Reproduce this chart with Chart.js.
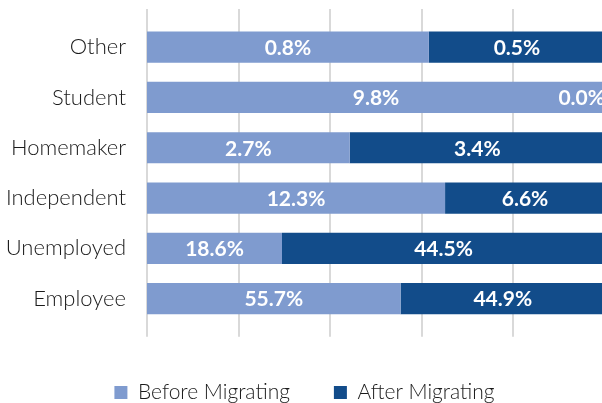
<!DOCTYPE html>
<html><head><meta charset="utf-8">
<script src="https://cdn.jsdelivr.net/npm/chart.js@4/dist/chart.umd.min.js"></script>
<style>
html,body{margin:0;padding:0;background:#fff;overflow:hidden;width:602px;height:403px}
#wrap{width:620px;height:413px;position:relative}
</style>
</head><body>
<div id="wrap"><canvas id="c"></canvas></div>
<script>
const categories = ['Other', 'Student', 'Homemaker', 'Independent', 'Unemployed', 'Employee'];
const beforeMigrating = [0.8, 9.8, 2.7, 12.3, 18.6, 55.7];
const afterMigrating = [0.5, 0.0, 3.4, 6.6, 44.5, 44.9];
const seriesNames = ['Before Migrating', 'After Migrating'];
const xTicks = [0, 20, 40, 60, 80, 100];

// 100% stacked: each bar split proportionally
const shareOf = (a, b) => a.map((v, i) => (v + b[i]) ? 100 * v / (v + b[i]) : 0);

const gridPlugin = {
  id: 'extGrid',
  beforeDatasetsDraw(chart) {
    const {ctx, chartArea, scales} = chart;
    ctx.save();
    ctx.strokeStyle = '#d9d9d9';
    ctx.lineWidth = 2;
    xTicks.forEach(v => {
      const px = Math.round(scales.x.getPixelForValue(v));
      ctx.beginPath();
      ctx.moveTo(px, chartArea.top - 13);
      ctx.lineTo(px, chartArea.bottom + 13);
      ctx.stroke();
    });
    ctx.restore();
  }
};

const labelPlugin = {
  id: 'barLabels',
  afterDatasetsDraw(chart) {
    const {ctx, chartArea} = chart;
    ctx.save();
    ctx.font = 'bold 21px Lato';
    ctx.fillStyle = '#ffffff';
    ctx.textBaseline = 'middle';
    ctx.textAlign = 'center';
    chart.data.datasets.forEach((ds, di) => {
      const meta = chart.getDatasetMeta(di);
      meta.data.forEach((el, i) => {
        const txt = ds.rawValues[i].toFixed(1) + '%';
        const w = ctx.measureText(txt).width;
        let cx = (el.x + el.base) / 2;
        cx = Math.min(cx, chartArea.right - w / 2);
        cx = Math.max(cx, chartArea.left + w / 2);
        ctx.fillText(txt, cx, el.y + 1);
      });
    });
    ctx.restore();
  }
};

new Chart(document.getElementById('c'), {
  type: 'bar',
  data: {
    labels: categories,
    datasets: [
      { label: seriesNames[0], data: shareOf(beforeMigrating, afterMigrating), rawValues: beforeMigrating,
        backgroundColor: '#7F9BCF', categoryPercentage: 1, barPercentage: 0.62 },
      { label: seriesNames[1], data: shareOf(afterMigrating, beforeMigrating), rawValues: afterMigrating,
        backgroundColor: '#124C8A', categoryPercentage: 1, barPercentage: 0.62 }
    ]
  },
  options: {
    indexAxis: 'y',
    responsive: true,
    maintainAspectRatio: false,
    animation: false,
    layout: { padding: { top: 22, right: 15, left: 4, bottom: 0 } },
    scales: {
      x: {
        stacked: true, min: 0, max: 100,
        ticks: { display: false, stepSize: 20 },
        grid: { display: false, drawTicks: false },
        border: { display: false },
        title: { display: true, text: ' ', font: { size: 1 }, padding: { top: 6, bottom: 7 } }
      },
      y: {
        stacked: true,
        grid: { display: false, drawTicks: false },
        border: { display: false },
        ticks: { padding: 21, color: '#1a1a1a', font: { family: 'Lato', weight: '300', size: 22 } },
        afterFit(s) { s.width = 143; s.paddingTop = 0; s.paddingBottom = 0; }
      }
    },
    plugins: {
      legend: {
        position: 'bottom',
        labels: { boxWidth: 13, boxHeight: 13, padding: 44, color: '#1a1a1a',
          font: { family: 'Lato', weight: '300', size: 21 } }
      },
      tooltip: { enabled: false }
    }
  },
  plugins: [gridPlugin, labelPlugin]
});
</script>
</body></html>
